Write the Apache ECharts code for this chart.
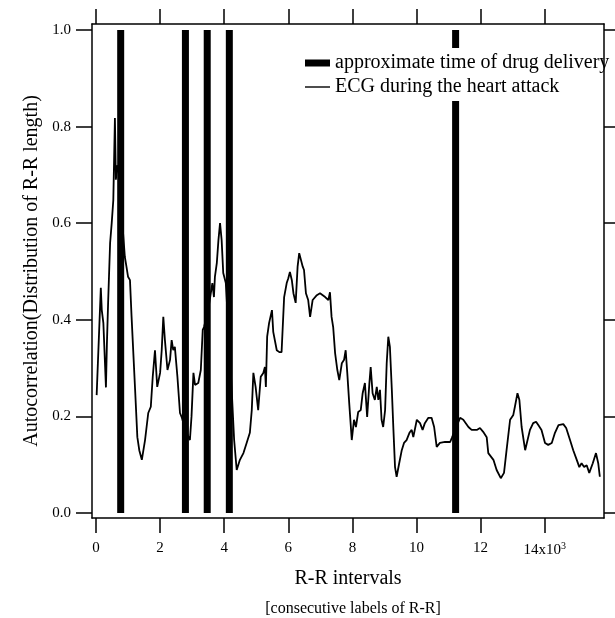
<!DOCTYPE html>
<html>
<head>
<meta charset="utf-8">
<script src="https://cdn.jsdelivr.net/npm/echarts@6/dist/echarts.min.js"></script>
<style>html,body{margin:0;padding:0;background:#fff;}#c{width:615px;height:618px;}</style>
</head>
<body>
<div id="c"></div>
<script>
// R-R interval index (in thousands) and autocorrelation values
const ecgX = [0.02,0.15,0.18,0.23,0.31,0.34,0.38,0.44,0.49,0.54,0.59,0.62,0.66,0.72,0.8,0.9,0.95,1.0,1.06,1.11,1.22,1.29,1.35,1.43,1.53,1.63,1.71,1.77,1.84,1.91,2.0,2.05,2.1,2.15,2.23,2.31,2.36,2.41,2.46,2.54,2.62,2.67,2.8,2.93,2.98,3.04,3.09,3.19,3.27,3.33,3.37,3.5,3.63,3.68,3.71,3.77,3.82,3.87,3.92,3.97,4.05,4.2,4.31,4.39,4.49,4.6,4.7,4.8,4.86,4.91,4.98,5.06,5.14,5.22,5.27,5.3,5.34,5.4,5.45,5.49,5.53,5.64,5.72,5.79,5.87,5.95,6.0,6.05,6.11,6.16,6.23,6.29,6.34,6.4,6.45,6.49,6.55,6.62,6.68,6.76,6.89,6.99,7.15,7.25,7.3,7.35,7.4,7.46,7.53,7.59,7.67,7.74,7.79,7.84,7.9,7.98,8.05,8.11,8.18,8.26,8.32,8.39,8.46,8.53,8.57,8.63,8.7,8.76,8.81,8.86,8.91,8.96,9.02,9.07,9.12,9.17,9.23,9.28,9.33,9.38,9.46,9.54,9.61,9.69,9.78,9.85,9.9,10.01,10.11,10.19,10.26,10.37,10.47,10.55,10.63,10.73,10.89,11.05,11.1,11.25,11.36,11.46,11.62,11.72,11.88,11.98,12.08,12.19,12.24,12.4,12.5,12.63,12.73,12.81,12.92,13.02,13.07,13.15,13.21,13.28,13.39,13.44,13.54,13.64,13.73,13.8,13.9,14.01,14.11,14.22,14.32,14.43,14.58,14.67,14.79,14.89,15.0,15.08,15.15,15.23,15.31,15.39,15.5,15.6,15.67,15.72];
const ecgY = [0.244,0.466,0.42,0.393,0.26,0.35,0.44,0.559,0.60,0.648,0.818,0.69,0.72,0.70,0.62,0.53,0.51,0.489,0.482,0.406,0.255,0.157,0.13,0.11,0.151,0.207,0.22,0.282,0.337,0.261,0.29,0.337,0.406,0.358,0.296,0.317,0.358,0.337,0.344,0.282,0.207,0.199,0.17,0.151,0.2,0.29,0.265,0.269,0.296,0.379,0.385,0.42,0.476,0.447,0.489,0.518,0.565,0.60,0.565,0.497,0.476,0.3,0.151,0.089,0.11,0.124,0.145,0.166,0.213,0.29,0.261,0.213,0.282,0.29,0.302,0.261,0.365,0.393,0.395,0.42,0.375,0.337,0.333,0.333,0.447,0.476,0.486,0.499,0.482,0.455,0.435,0.51,0.538,0.54,0.51,0.503,0.455,0.441,0.406,0.441,0.451,0.455,0.447,0.441,0.457,0.406,0.385,0.331,0.296,0.275,0.31,0.317,0.337,0.29,0.228,0.151,0.193,0.178,0.209,0.213,0.248,0.269,0.199,0.269,0.302,0.248,0.234,0.261,0.234,0.255,0.193,0.178,0.213,0.31,0.365,0.344,0.255,0.172,0.095,0.075,0.103,0.13,0.145,0.151,0.166,0.172,0.157,0.193,0.186,0.172,0.186,0.197,0.197,0.178,0.137,0.145,0.147,0.147,0.155,0.18,0.197,0.193,0.178,0.172,0.172,0.176,0.168,0.157,0.124,0.11,0.089,0.072,0.083,0.13,0.193,0.203,0.22,0.248,0.234,0.178,0.13,0.134,0.172,0.186,0.189,0.182,0.172,0.145,0.141,0.145,0.166,0.182,0.184,0.176,0.151,0.13,0.11,0.095,0.103,0.095,0.099,0.083,0.103,0.124,0.103,0.075];
// approximate times of drug delivery (thousands of R-R intervals)
const drugX = [0.77, 2.79, 3.47, 4.16, 11.22];
const drugY = [1.0, 1.0, 1.0, 1.0, 1.0];
const xTicks = [0, 2, 4, 6, 8, 10, 12, 14];
const yTicks = [0, 0.2, 0.4, 0.6, 0.8, 1.0];

const SERIF = '"Liberation Serif", "Times New Roman", serif';
const chart = echarts.init(document.getElementById('c'), null, {renderer: 'canvas'});
const axLine = {show: true, onZero: false, lineStyle: {color: '#000', width: 1.5}};
const tickStyle = {color: '#000', width: 1.5};

chart.setOption({
  animation: false,
  backgroundColor: '#fff',
  title: {
    text: '[consecutive labels of R-R]',
    left: 348, top: 596, textAlign: 'center',
    textStyle: {fontFamily: SERIF, fontSize: 16, fontWeight: 'normal', color: '#000'}
  },
  legend: {
    orient: 'vertical', left: 300, top: 48,
    padding: [5, 4, 4, 5], itemGap: 4,
    itemWidth: 25, itemHeight: 7,
    backgroundColor: '#fff',
    textStyle: {fontFamily: SERIF, fontSize: 20, color: '#000', lineHeight: 19},
    data: [
      {name: 'approximate time of drug delivery', icon: 'rect'},
      {name: 'ECG during the heart attack', icon: 'path://M0,0L25,0L25,1.4L0,1.4Z'}
    ]
  },
  grid: {left: 92, right: 11, top: 24, bottom: 100, containLabel: false},
  xAxis: [{
    type: 'value', min: -0.125, max: 15.85, position: 'bottom',
    axisLine: axLine,
    axisTick: {show: true, inside: false, length: 15, lineStyle: tickStyle, customValues: xTicks},
    splitLine: {show: false},
    axisLabel: {
      customValues: xTicks, margin: 23, color: '#000', fontFamily: SERIF, fontSize: 15,
      formatter: v => (Math.abs(v - 14) < 1e-9 ? '14x10{sup|3}' : String(Math.round(v))),
      rich: {sup: {fontFamily: SERIF, fontSize: 10, verticalAlign: 'top', padding: [0, 0, 8, 0], color: '#000'}}
    },
    name: 'R-R intervals', nameLocation: 'middle', nameGap: 51,
    nameTextStyle: {fontFamily: SERIF, fontSize: 20, color: '#000'}
  }, {
    type: 'value', min: -0.125, max: 15.85, position: 'top',
    axisLine: axLine,
    axisTick: {show: true, inside: false, length: 15, lineStyle: tickStyle, customValues: xTicks},
    splitLine: {show: false},
    axisLabel: {show: false}
  }],
  yAxis: [{
    type: 'value', min: -0.0104, max: 1.0124, position: 'left',
    axisLine: axLine,
    axisTick: {show: true, inside: false, length: 16, lineStyle: tickStyle, customValues: yTicks},
    splitLine: {show: false},
    axisLabel: {
      customValues: yTicks, margin: 21, color: '#000', fontFamily: SERIF, fontSize: 15,
      formatter: v => v.toFixed(1)
    },
    name: 'Autocorrelation(Distribution of R-R length)', nameLocation: 'middle', nameGap: 50,
    nameRotate: 90,
    nameTextStyle: {fontFamily: SERIF, fontSize: 20, color: '#000'}
  }, {
    type: 'value', min: -0.0104, max: 1.0124, position: 'right', z: 10,
    axisLine: axLine,
    axisTick: {show: true, inside: false, length: 11, lineStyle: tickStyle, customValues: yTicks},
    splitLine: {show: false},
    axisLabel: {show: false}
  }],
  series: [{
    name: 'approximate time of drug delivery',
    type: 'bar', xAxisIndex: 0, yAxisIndex: 0,
    barWidth: 7,
    itemStyle: {color: '#000'},
    data: drugX.map((x, i) => [x, drugY[i]]),
    z: 3
  }, {
    name: 'ECG during the heart attack',
    type: 'line', xAxisIndex: 0, yAxisIndex: 0,
    showSymbol: false, symbol: 'none',
    lineStyle: {color: '#000', width: 1.8},
    itemStyle: {color: '#000'},
    data: ecgX.map((x, i) => [x, ecgY[i]]),
    z: 2
  }]
});
</script>
</body>
</html>
